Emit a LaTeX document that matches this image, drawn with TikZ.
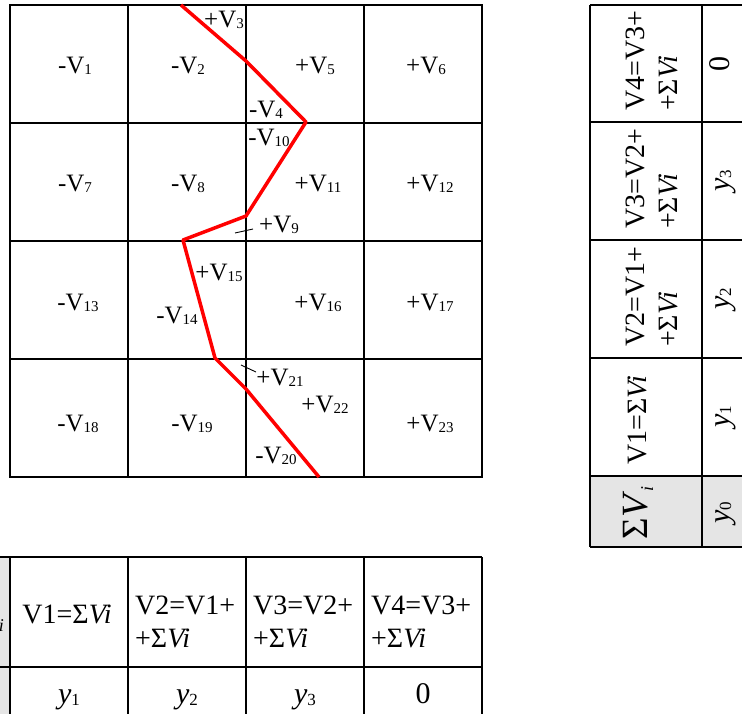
\documentclass[tikz,border=0pt]{standalone}
\usepackage{fontspec}
\setmainfont{Liberation Serif}
\newcommand{\cellv}[2]{#1V\raisebox{-1.5pt}{\fontsize{15}{15}\selectfont #2}}
\newcommand{\sv}{Σ\textit{Vi}}
\newcommand{\yy}[1]{\textit{y}\raisebox{-2pt}{\fontsize{17}{17}\selectfont #1}}
\newcommand{\bigsv}{Σ\textit{V}\raisebox{-6pt}{\fontsize{18}{18}\selectfont\textit{i}}}
\tikzset{
  gridline/.style={line width=1.8pt, line cap=rect},
  tabline/.style={line width=1.2pt},
  vlab/.style={font=\fontsize{25}{28}\selectfont, inner sep=0pt, anchor=base},
  tlab/.style={font=\fontsize{28}{33}\selectfont, inner sep=0pt, align=left},
  ylab/.style={font=\fontsize{30}{30}\selectfont, inner sep=0pt, anchor=base},
  slab/.style={font=\fontsize{37}{37}\selectfont, inner sep=0pt},
  cutline/.style={red, line width=3.5pt, line join=round},
  tickline/.style={line width=0.9pt},
  shade/.style={fill=black!10}
}
\begin{document}
\begin{tikzpicture}[x=1pt,y=-1pt]
\useasboundingbox (0,0) rectangle (742,713);
\begin{scope}
\clip (0,0) rectangle (742,713);
% ---------------- grid ----------------
\foreach \i in {1,2,3} {
  \draw[gridline] ({10+118*\i},5) -- ({10+118*\i},477);
  \draw[gridline] (10,{5+118*\i}) -- (482,{5+118*\i});
}
\draw[gridline] (10,5) rectangle (482,477);
% labels
\node[vlab] (v1)  at (75,73)  {\cellv{-}{1}};
\node[vlab] (v2)  at (188,73) {\cellv{-}{2}};
\node[vlab] (v3)  at (224,27) {\cellv{+}{3}};
\node[vlab] (v5)  at (315,73) {\cellv{+}{5}};
\node[vlab] (v6)  at (426,73) {\cellv{+}{6}};
\node[vlab] (v4)  at (266,117) {\cellv{-}{4}};
\node[vlab] (v10) at (269,145) {\cellv{-}{10}};
\node[vlab] (v7)  at (75,191) {\cellv{-}{7}};
\node[vlab] (v8)  at (188,191) {\cellv{-}{8}};
\node[vlab] (v11) at (318,191) {\cellv{+}{11}};
\node[vlab] (v12) at (430,191) {\cellv{+}{12}};
\node[vlab] (v9)  at (279,232) {\cellv{+}{9}};
\node[vlab] (v15) at (219,280) {\cellv{+}{15}};
\node[vlab] (v13) at (78,310) {\cellv{-}{13}};
\node[vlab] (v14) at (177,323) {\cellv{-}{14}};
\node[vlab] (v16) at (318,310) {\cellv{+}{16}};
\node[vlab] (v17) at (430,310) {\cellv{+}{17}};
\node[vlab] (v21) at (280,385) {\cellv{+}{21}};
\node[vlab] (v22) at (325,412) {\cellv{+}{22}};
\node[vlab] (v18) at (78,431) {\cellv{-}{18}};
\node[vlab] (v19) at (192,431) {\cellv{-}{19}};
\node[vlab] (v23) at (430,431) {\cellv{+}{23}};
\node[vlab] (v20) at (276,463) {\cellv{-}{20}};
% red cut line
\coordinate (p0) at (181,5);
\coordinate (p1) at (246,61);
\coordinate (p2) at (306,122);
\coordinate (p3) at (246,216);
\coordinate (p4) at (183,240);
\coordinate (p5) at (215,358);
\coordinate (p6) at (246,389);
\coordinate (p7) at (319,477);
\draw[cutline] (p0) -- (p1) -- (p2) -- (p3) -- (p4) -- (p5) -- (p6) -- (p7);
% small ticks
\coordinate (t1a) at (235,233);
\coordinate (t1b) at (253,229);
\coordinate (t2a) at (241,365);
\coordinate (t2b) at (256,372);
\draw[tickline] (t1a) -- (t1b);
\draw[tickline] (t2a) -- (t2b);
% ---------------- bottom table ----------------
\fill[shade] (-61,557) rectangle (10,737);
\foreach \x in {10,128,246,364,482} \draw[tabline] (\x,557) -- (\x,737);
\draw[tabline] (-61,557) -- (482,557);
\draw[tabline] (-61,667) -- (482,667);
\node[slab, anchor=base east] (b0) at (4,625) {\bigsv};
\node[tlab, anchor=base] (b1) at (67,623) {V1=\sv};
\node[tlab, anchor=north west] (b2) at (135,596) {V2=V1+\\+\sv};
\node[tlab, anchor=north west] (b3) at (253,596) {V3=V2+\\+\sv};
\node[tlab, anchor=north west] (b4) at (371,596) {V4=V3+\\+\sv};
\node[ylab] (c1) at (69,703)  {\yy{1}};
\node[ylab] (c2) at (187,703) {\yy{2}};
\node[ylab] (c3) at (305,703) {\yy{3}};
\node[ylab] (c4) at (423,703) {0};
% ---------------- right (rotated) table ----------------
\fill[shade] (590,476) rectangle (772,547);
\foreach \y in {5,122,240,358,476,547} \draw[tabline] (590,\y) -- (772,\y);
\draw[tabline] (590,5) -- (590,547);
\draw[tabline] (702,5) -- (702,547);
\node[slab, rotate=90, anchor=base] (r0) at (647,513) {\bigsv};
\node[tlab, rotate=90, anchor=base] (r1) at (646,420) {V1=\sv};
\node[tlab, rotate=90, anchor=north west] (r2) at (626,347) {V2=V1+\\+\sv};
\node[tlab, rotate=90, anchor=north west] (r3) at (626,229) {V3=V2+\\+\sv};
\node[tlab, rotate=90, anchor=north west] (r4) at (626,111) {V4=V3+\\+\sv};
\node[ylab, rotate=90] (s0) at (729,513) {\yy{0}};
\node[ylab, rotate=90] (s1) at (729,417) {\yy{1}};
\node[ylab, rotate=90] (s2) at (729,299) {\yy{2}};
\node[ylab, rotate=90] (s3) at (729,181) {\yy{3}};
\node[ylab, rotate=90] (s4) at (729,64)  {0};
\end{scope}
\end{tikzpicture}
\end{document}
